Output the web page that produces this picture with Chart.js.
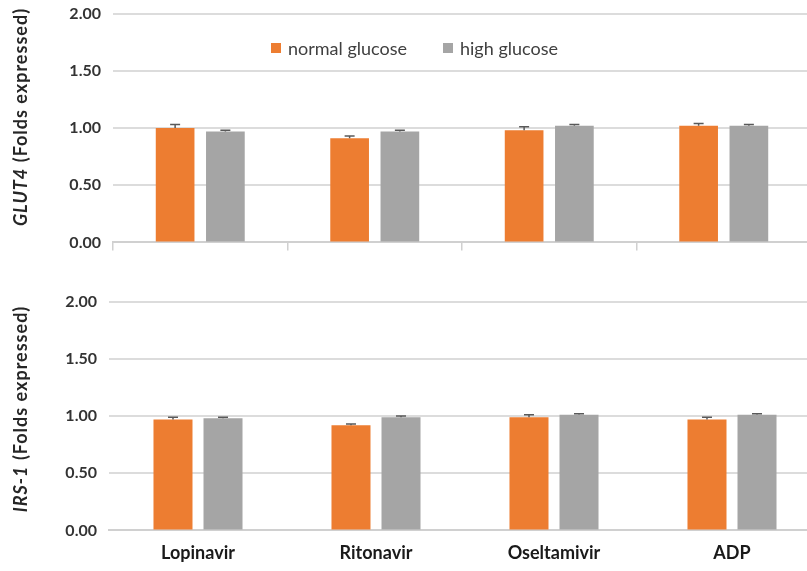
<!DOCTYPE html>
<html>
<head>
<meta charset="utf-8">
<script src="https://cdn.jsdelivr.net/npm/chart.js@4"></script>
<style>
  html, body { margin: 0; padding: 0; background: #fff; }
  body { width: 807px; height: 571px; position: relative; overflow: hidden; font-family: Lato, "Open Sans", sans-serif; }
  .panel { position: absolute; left: 0; }
  .ytitle { position: absolute; white-space: nowrap; font-weight: bold; font-size: 18px; letter-spacing: 1px; color: #262626;
            transform: translate(-50%, -50%) rotate(-90deg); }
  .legend { position: absolute; top: 37px; left: 271px; font-size: 18px; color: #404040; display: flex; align-items: center; }
  .legend span.sw { display: inline-block; width: 10px; height: 10px; margin-right: 7px; }
  .legend span.item { display: inline-flex; align-items: center; margin-right: 36px; }
</style>
</head>
<body>
<div class="panel" style="top:-8px"><canvas id="glut4" width="811" height="272"></canvas></div>
<div class="panel" style="top:280px"><canvas id="irs1" width="821" height="288"></canvas></div>
<div class="ytitle" style="left:20px; top:117px"><i>GLUT4</i> (Folds expressed)</div>
<div class="ytitle" style="left:20px; top:409px"><i>IRS-1</i> (Folds expressed)</div>
<div class="legend" id="legend"></div>
<script>
const categories = ['Lopinavir', 'Ritonavir', 'Oseltamivir', 'ADP'];
const seriesNames = ['normal glucose', 'high glucose'];
const seriesColors = ['#ED7D31', '#A5A5A5'];
const yTicks = [0, 0.5, 1, 1.5, 2];

// GLUT4 expression (fold change) with upper error
const glut4Normal = [1.00, 0.91, 0.98, 1.02];
const glut4NormalErr = [0.03, 0.02, 0.03, 0.02];
const glut4High = [0.97, 0.97, 1.02, 1.02];
const glut4HighErr = [0.01, 0.01, 0.01, 0.01];

// IRS-1 expression (fold change) with upper error
const irs1Normal = [0.97, 0.92, 0.99, 0.97];
const irs1NormalErr = [0.02, 0.01, 0.02, 0.02];
const irs1High = [0.98, 0.99, 1.01, 1.01];
const irs1HighErr = [0.01, 0.01, 0.01, 0.01];

// Upward-only error bars with a short cap
const errorBars = {
  id: 'errorBars',
  afterDatasetsDraw(chart) {
    const ctx = chart.ctx;
    const y = chart.scales.y;
    chart.data.datasets.forEach((ds, di) => {
      const meta = chart.getDatasetMeta(di);
      meta.data.forEach((bar, i) => {
        const top = y.getPixelForValue(ds.data[i] + ds.errors[i]);
        ctx.save();
        ctx.strokeStyle = '#595959';
        ctx.lineWidth = 1.5;
        ctx.beginPath();
        ctx.moveTo(bar.x, bar.y);
        ctx.lineTo(bar.x, top);
        ctx.moveTo(bar.x - 5, top);
        ctx.lineTo(bar.x + 5, top);
        ctx.stroke();
        ctx.restore();
      });
    });
  }
};

function makeChart(id, normal, normalErr, high, highErr, opts) {
  return new Chart(document.getElementById(id), {
    type: 'bar',
    data: {
      labels: categories,
      datasets: [
        { label: seriesNames[0], data: normal, errors: normalErr, backgroundColor: seriesColors[0],
          categoryPercentage: opts.catPct, barPercentage: opts.barPct },
        { label: seriesNames[1], data: high, errors: highErr, backgroundColor: seriesColors[1],
          categoryPercentage: opts.catPct, barPercentage: opts.barPct }
      ]
    },
    options: {
      responsive: false,
      animation: false,
      devicePixelRatio: 1,
      layout: { padding: { top: 6, right: 0, left: 0, bottom: 0 } },
      plugins: { legend: { display: false }, tooltip: { enabled: false } },
      scales: {
        x: {
          grid: { display: opts.xTicks, drawOnChartArea: false, drawTicks: true, tickLength: 8,
                  color: '#d0d0d0', lineWidth: 1.5, offset: true },
          border: { display: true, color: '#d0d0d0', width: 2 },
          ticks: { display: opts.xLabels, color: '#1a1a1a', padding: 4,
                   font: { family: 'Lato', size: 18, weight: 'bold' } }
        },
        y: {
          min: 0, max: 2,
          afterBuildTicks(scale) { scale.ticks = yTicks.map(v => ({ value: v })); },
          afterFit(scale) { scale.width = opts.yWidth; },
          grid: { color: '#dcdcdc', lineWidth: 2, drawTicks: false },
          border: { display: false },
          ticks: { color: '#333333', padding: 12, callback: v => Number(v).toFixed(2),
                   font: { family: 'Lato', size: 16, weight: 'bold' } }
        }
      }
    },
    plugins: [errorBars]
  });
}

makeChart('glut4', glut4Normal, glut4NormalErr, glut4High, glut4HighErr,
  { catPct: 0.576, barPct: 0.77, yWidth: 113, xTicks: true, xLabels: false });
makeChart('irs1', irs1Normal, irs1NormalErr, irs1High, irs1HighErr,
  { catPct: 0.562, barPct: 0.78, yWidth: 109, xTicks: false, xLabels: true });

// Legend built from the series names and colours
const legend = document.getElementById('legend');
seriesNames.forEach((name, i) => {
  const item = document.createElement('span');
  item.className = 'item';
  const sw = document.createElement('span');
  sw.className = 'sw';
  sw.style.background = seriesColors[i];
  item.appendChild(sw);
  item.appendChild(document.createTextNode(name));
  legend.appendChild(item);
});
</script>
</body>
</html>
